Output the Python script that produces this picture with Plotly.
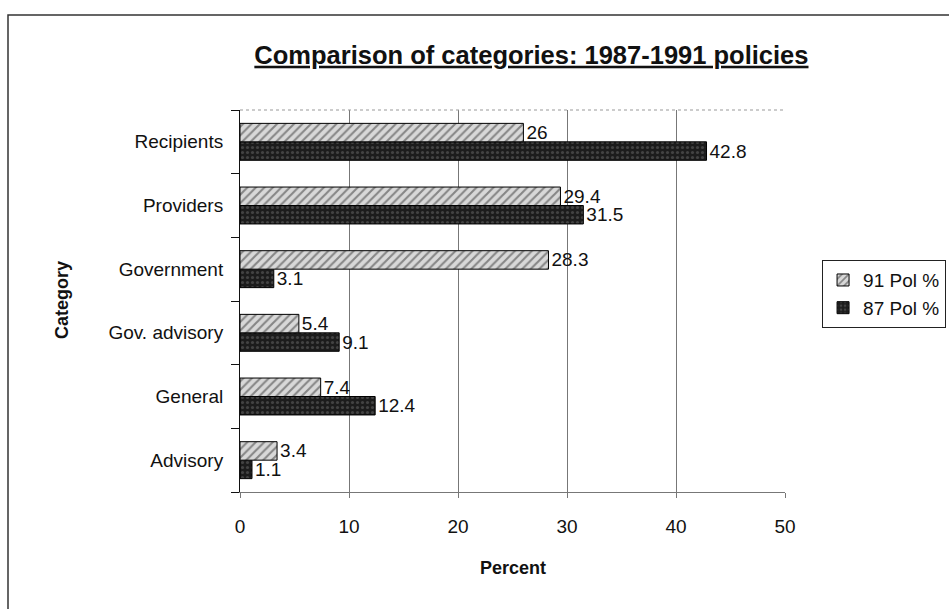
import plotly.graph_objects as go

categories = ["Advisory", "General", "Gov. advisory", "Government", "Providers", "Recipients"]
pol91 = [3.4, 7.4, 5.4, 28.3, 29.4, 26]
pol87 = [1.1, 12.4, 9.1, 3.1, 31.5, 42.8]
x_ticks = [0, 10, 20, 30, 40, 50]

FONT = "Liberation Sans, Arial"

fig = go.Figure()
fig.add_trace(go.Bar(
    y=categories, x=pol87, orientation="h", name="87 Pol %",
    marker=dict(color="#1c1c1c", line=dict(color="#000000", width=1),
                pattern=dict(shape=".", fgcolor="#6a6a6a", bgcolor="#1c1c1c", size=5, solidity=0.3)),
    text=[str(v) for v in pol87], textposition="outside", cliponaxis=False,
    constraintext="none",
    textfont=dict(family=FONT, size=19, color="#111"),
    legendrank=2,
))
fig.add_trace(go.Bar(
    y=categories, x=pol91, orientation="h", name="91 Pol %",
    marker=dict(color="#d0d0d0", line=dict(color="#000000", width=1),
                pattern=dict(shape="/", fgcolor="#333333", bgcolor="#d8d8d8", size=6, solidity=0.35)),
    text=[str(v) for v in pol91], textposition="outside", cliponaxis=False,
    constraintext="none",
    textfont=dict(family=FONT, size=19, color="#111"),
    legendrank=1,
))

fig.update_layout(
    width=949, height=609,
    margin=dict(l=240, r=164, t=110, b=117, autoexpand=False),
    paper_bgcolor="white", plot_bgcolor="white",
    barmode="group", bargap=0.42, bargroupgap=0,
    font=dict(family=FONT, size=19, color="#111"),
    title=dict(text="<b><u>Comparison of categories: 1987-1991 policies</u></b>",
               x=0.56, xanchor="center", y=0.91, yanchor="middle",
               font=dict(family="Liberation Sans Narrow, Liberation Sans, Arial", size=25.5, color="#111")),
    showlegend=True,
    legend=dict(x=1.068, xanchor="left", y=0.518, yanchor="middle",
                bordercolor="#222", borderwidth=1, bgcolor="white",
                font=dict(size=19), itemwidth=30, tracegroupgap=4),
    xaxis=dict(range=[0, 50], tickvals=x_ticks, ticktext=[str(t) for t in x_ticks],
               showgrid=True, gridcolor="#777", gridwidth=1,
               showline=True, linecolor="#777", ticks="outside", ticklen=5, tickcolor="#777",
               ticklabelstandoff=12,
               tickfont=dict(size=19), zeroline=False, mirror=False),
    yaxis=dict(categoryorder="array", categoryarray=categories,
               showline=True, linecolor="#111", linewidth=1,
               ticks="outside", tickson="boundaries", ticklen=8, tickcolor="#111",
               ticklabelstandoff=12,
               tickfont=dict(size=19)),
    annotations=[
        dict(text="<b>Category</b>", xref="paper", yref="paper",
             x=(62 - 240) / 545, y=1 - (300 - 110) / 382,
             xanchor="center", yanchor="middle", textangle=-90, showarrow=False,
             font=dict(size=18, color="#111")),
        dict(text="<b>Percent</b>", xref="paper", yref="paper",
             x=0.5, y=-(568 - 492) / 382, xanchor="center", yanchor="middle",
             showarrow=False, font=dict(size=18, color="#111")),
    ],
)

# dotted top border of the plot area
fig.add_shape(type="line", xref="paper", yref="paper", x0=0, x1=1, y0=1, y1=1,
              line=dict(color="#999", width=1, dash="dot"))
# outer chart frame (extends past the right and bottom edges)
fig.add_shape(type="rect", xref="paper", yref="paper",
              x0=(8 - 240) / 545, x1=1.4, y0=-0.4, y1=1 + (110 - 15) / 382,
              line=dict(color="#333", width=1.5))

fig.write_html("out.html")
